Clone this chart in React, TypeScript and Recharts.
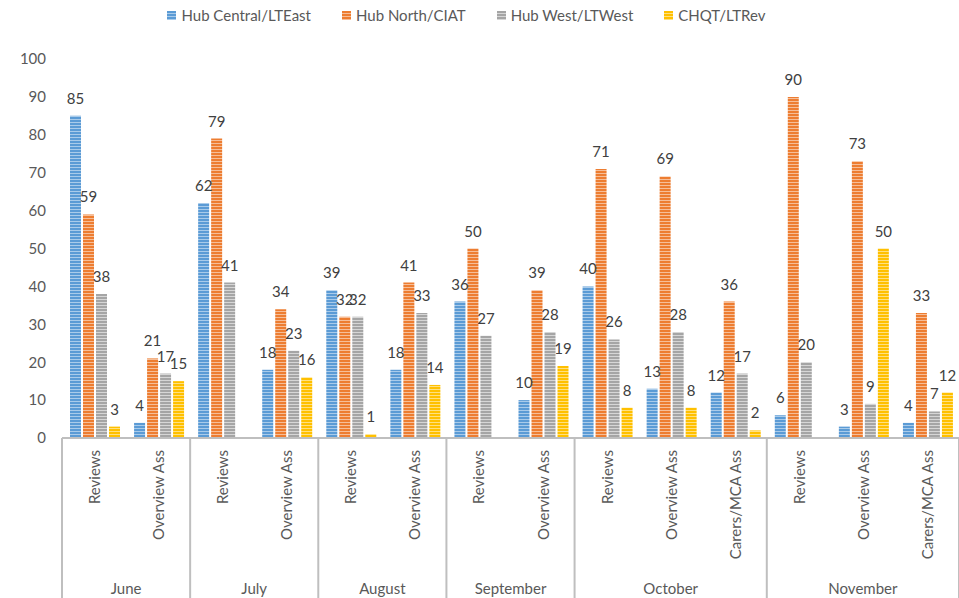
import React from 'react';
import { BarChart, Bar, XAxis, YAxis, LabelList } from 'recharts';

// Assessment activity per hub, grouped by month
const categories = [
  'Reviews', 'Overview Ass',
  'Reviews', 'Overview Ass',
  'Reviews', 'Overview Ass',
  'Reviews', 'Overview Ass',
  'Reviews', 'Overview Ass', 'Carers/MCA Ass',
  'Reviews', 'Overview Ass', 'Carers/MCA Ass',
];
const monthOf = [
  'June', 'June',
  'July', 'July',
  'August', 'August',
  'September', 'September',
  'October', 'October', 'October',
  'November', 'November', 'November',
];
const hubCentral = [85, 4, 62, 18, 39, 18, 36, 10, 40, 13, 12, 6, 3, 4];
const hubNorth = [59, 21, 79, 34, 32, 41, 50, 39, 71, 69, 36, 90, 73, 33];
const hubWest = [38, 17, 41, 23, 32, 33, 27, 28, 26, 28, 17, 20, 9, 7];
const chqt = [3, 15, 0, 16, 1, 14, 0, 19, 8, 8, 2, 0, 50, 12];
const yTicks = [0, 10, 20, 30, 40, 50, 60, 70, 80, 90, 100];

const seriesDefs = [
  { key: 'central', name: 'Hub Central/LTEast', color: '#5B9BD5', light: '#A9CBEA' },
  { key: 'north', name: 'Hub North/CIAT', color: '#ED7D31', light: '#F6BE98' },
  { key: 'west', name: 'Hub West/LTWest', color: '#A5A5A5', light: '#D6D6D6' },
  { key: 'chqt', name: 'CHQT/LTRev', color: '#FFC000', light: '#FFE080' },
];

const data = categories.map((c, i) => ({
  name: c,
  month: monthOf[i],
  central: hubCentral[i],
  north: hubNorth[i],
  west: hubWest[i],
  chqt: chqt[i],
}));

const W = 959;
const H = 598;
const LEFT = 62;
const RIGHT_M = 0;
const BAND = (W - LEFT - RIGHT_M) / categories.length;
const FONT = 'Lato, "Liberation Sans", Arial, sans-serif';
const AXIS_GRAY = '#BFBFBF';

const CategoryTick = (props: any) => {
  const { x, y, payload } = props;
  const i = payload.index;
  const isFirst = i === 0 || monthOf[i] !== monthOf[i - 1];
  const isLast = i === categories.length - 1;
  let count = 0;
  if (isFirst) {
    while (i + count < monthOf.length && monthOf[i + count] === monthOf[i]) count++;
  }
  const left = x - BAND / 2;
  return (
    <g>
      <text
        x={x}
        y={y + 12}
        transform={`rotate(-90, ${x}, ${y + 12})`}
        textAnchor="end"
        dominantBaseline="central"
        fontSize={15}
        fill="#595959"
        fontFamily={FONT}
      >
        {payload.value}
      </text>
      {isFirst && (
        <line x1={left} y1={y} x2={left} y2={H} stroke={AXIS_GRAY} strokeWidth={2} />
      )}
      {isLast && (
        <line x1={x + BAND / 2} y1={y} x2={x + BAND / 2} y2={H} stroke={AXIS_GRAY} strokeWidth={2} />
      )}
      {isFirst && (
        <text
          x={left + (count * BAND) / 2}
          y={y + 150}
          textAnchor="middle"
          dominantBaseline="central"
          fontSize={15}
          fill="#595959"
          fontFamily={FONT}
        >
          {monthOf[i]}
        </text>
      )}
    </g>
  );
};

const LegendBar = () => (
  <div
    style={{
      position: 'absolute',
      top: 5,
      left: 0,
      width: 933,
      display: 'flex',
      justifyContent: 'center',
      gap: 31,
      fontFamily: FONT,
      fontSize: 15,
      color: '#595959',
      lineHeight: '20px',
    }}
  >
    {seriesDefs.map((s) => (
      <div key={s.key} style={{ display: 'flex', alignItems: 'center', gap: 5 }}>
        <svg width={9} height={9}>
          <rect width={9} height={9} fill={`url(#stripe-${s.key})`} />
        </svg>
        <span>{s.name}</span>
      </div>
    ))}
  </div>
);

export default function App() {
  return (
    <div style={{ position: 'absolute', left: 0, top: 0, width: W, height: H, background: '#fff' }}>
      <BarChart
        width={W}
        height={H}
        data={data}
        margin={{ top: 59, right: RIGHT_M, left: 0, bottom: 0 }}
        barCategoryGap={8}
        barGap={2}
      >
        <defs>
          {seriesDefs.map((s) => (
            <pattern
              key={s.key}
              id={`stripe-${s.key}`}
              patternUnits="userSpaceOnUse"
              width={4}
              height={3}
            >
              <rect x={0} y={0} width={4} height={3} fill={s.color} />
              <rect x={0} y={2} width={4} height={1} fill={s.light} />
            </pattern>
          ))}
        </defs>
        <YAxis
          width={LEFT}
          domain={[0, 100]}
          ticks={yTicks}
          interval={0}
          axisLine={false}
          tickLine={false}
          tickSize={0}
          tickMargin={16}
          tick={{ fontSize: 15, fill: '#595959', fontFamily: FONT }}
        />
        <XAxis
          dataKey="name"
          height={H - 438}
          interval={0}
          tickLine={false}
          tickSize={0}
          tickMargin={0}
          axisLine={{ stroke: AXIS_GRAY, strokeWidth: 2 }}
          tick={<CategoryTick />}
        />
        {seriesDefs.map((s) => (
          <Bar
            key={s.key}
            dataKey={s.key}
            name={s.name}
            fill={`url(#stripe-${s.key})`}
            isAnimationActive={false}
          >
            <LabelList
              dataKey={s.key}
              position="top"
              offset={12}
              fontSize={15}
              fill="#404040"
              fontFamily={FONT}
            />
          </Bar>
        ))}
      </BarChart>
      <LegendBar />
    </div>
  );
}
